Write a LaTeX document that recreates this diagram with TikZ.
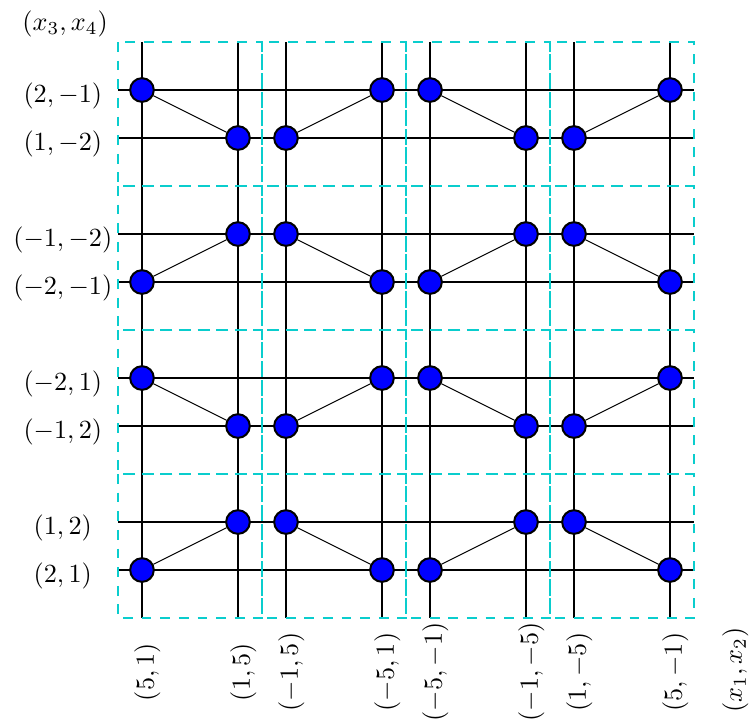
\documentclass[tikz,border=0pt]{standalone}
\definecolor{boxcyan}{RGB}{10,205,205}
\begin{document}
\begin{tikzpicture}[x=0.67cm,y=0.67cm,
  dot/.style={circle,draw=black,fill=blue,thick,minimum size=9.4pt,inner sep=0pt},
  gridline/.style={black,line width=0.42pt},
  link/.style={black,line width=0.42pt},
  boxline/.style={draw=boxcyan,line width=1.1pt,dash pattern=on 3.9pt off 3.5pt},
  lbl/.style={inner sep=0pt,scale=1.04}]
\useasboundingbox (-2.458,0.875) rectangle (13.146,-14.167);
% grid lines
\foreach \c in {0.5,2.5,3.5,5.5,6.5,8.5,9.5,11.5}
  \draw[gridline] (\c,0) -- (\c,-12);
\foreach \r in {1,2,4,5,7,8,10,11}
  \draw[gridline] (0,-\r) -- (12,-\r);
% dashed boxes
\foreach \i in {0,3,6,9}
  \foreach \j in {0,3,6,9}
    \draw[boxline] (\i,-\j) rectangle ++(3,-3);
% circles and links
\foreach \o/\n in {1/2,5/4,7/8,11/10} {
  \node[dot] (c1r\o) at (0.5,-\o) {};
  \node[dot] (c4r\o) at (5.5,-\o) {};
  \node[dot] (c5r\o) at (6.5,-\o) {};
  \node[dot] (c8r\o) at (11.5,-\o) {};
  \node[dot] (c2r\n) at (2.5,-\n) {};
  \node[dot] (c3r\n) at (3.5,-\n) {};
  \node[dot] (c6r\n) at (8.5,-\n) {};
  \node[dot] (c7r\n) at (9.5,-\n) {};
  \draw[link] (c1r\o) -- (c2r\n);
  \draw[link] (c3r\n) -- (c4r\o);
  \draw[link] (c5r\o) -- (c6r\n);
  \draw[link] (c7r\n) -- (c8r\o);
}
% left labels
\node[lbl] (ly) at (-1.1,0.375) {$(x_3,x_4)$};
\foreach \r/\t [count=\k] in {1/{$(2,-1)$},2/{$(1,-2)$},4/{$(-1,-2)$},5/{$(-2,-1)$},7/{$(-2,1)$},8/{$(-1,2)$},10/{$(1,2)$},11/{$(2,1)$}}
  \node[lbl] (l\k) at (-1.15,-\r-0.125) {\t};
% bottom labels
\foreach \x/\t [count=\k] in {0.5/{$(5,1)$},2.5/{$(1,5)$},3.5/{$(-1,5)$},5.5/{$(-5,1)$},6.5/{$(-5,-1)$},8.5/{$(-1,-5)$},9.5/{$(1,-5)$},11.5/{$(5,-1)$}}
  \node[lbl,rotate=90] (b\k) at (\x+0.11,-13.125) {\t};
\node[lbl,rotate=90] (bx) at (12.86,-13.08) {$(x_1,x_2)$};
\end{tikzpicture}
\end{document}
